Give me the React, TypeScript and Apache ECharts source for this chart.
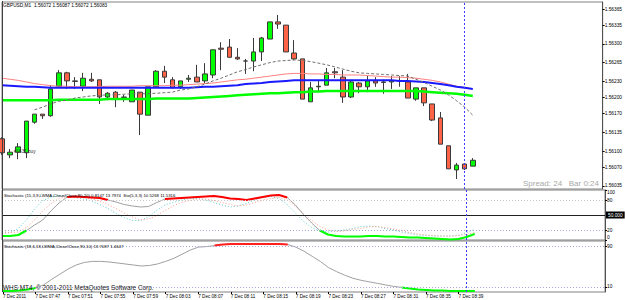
import { useEffect, useRef } from "react";
import * as echarts from "echarts";

const FONT = '"Liberation Sans", Arial, sans-serif';

// ---------- categories (M1 bars) ----------
const barTimes = [
  "07:43", "07:44", "07:45", "07:46", "07:47", "07:48", "07:49", "07:50", "07:51", "07:52",
  "07:53", "07:54", "07:55", "07:56", "07:57", "07:58", "07:59", "08:00", "08:01", "08:02",
  "08:03", "08:04", "08:05", "08:06", "08:07", "08:08", "08:09", "08:10", "08:11", "08:12",
  "08:13", "08:14", "08:15", "08:16", "08:17", "08:18", "08:19", "08:20", "08:21", "08:22",
  "08:23", "08:24", "08:25", "08:26", "08:27", "08:28", "08:29", "08:30", "08:31", "08:32",
  "08:33", "08:34", "08:35", "08:36", "08:37", "08:38", "08:39", "08:40", "08:41",
];
const emptySlots = [
  "08:42", "08:43", "08:44", "08:45", "08:46", "08:47", "08:48", "08:49",
  "08:50", "08:51", "08:52", "08:53", "08:54", "08:55", "08:56", "08:57",
];
const categories = [...barTimes, ...emptySlots];

// ---------- OHLC ----------
const opens = [
  1.56123, 1.56093, 1.56098, 1.56097, 1.56154, 1.56169, 1.56166, 1.56221, 1.56246, 1.56231,
  1.56221, 1.56234, 1.56233, 1.56201, 1.56210, 1.56201, 1.56192, 1.56210, 1.56167, 1.56220,
  1.56249, 1.56233, 1.56220, 1.56234, 1.56238, 1.56231, 1.56242, 1.56292, 1.56294, 1.56275,
  1.56268, 1.56268, 1.56285, 1.56309, 1.56341, 1.56335, 1.56283, 1.56272, 1.56192, 1.56220,
  1.56223, 1.56248, 1.56238, 1.56201, 1.56227, 1.56220, 1.56231, 1.56229, 1.56229, 1.56231,
  1.56229, 1.56197, 1.56218, 1.56188, 1.56162, 1.56110, 1.56065, 1.56076, 1.56072,
];
const closes = [
  1.56097, 1.56098, 1.56108, 1.56156, 1.56169, 1.56166, 1.56216, 1.56246, 1.56231, 1.56230,
  1.56236, 1.56231, 1.56201, 1.56208, 1.56197, 1.56200, 1.56214, 1.56169, 1.56220, 1.56249,
  1.56238, 1.56218, 1.56231, 1.56236, 1.56229, 1.56244, 1.56289, 1.56290, 1.56275, 1.56272,
  1.56268, 1.56285, 1.56311, 1.56341, 1.56337, 1.56285, 1.56272, 1.56197, 1.56218, 1.56221,
  1.56246, 1.56246, 1.56201, 1.56229, 1.56220, 1.56231, 1.56227, 1.56228, 1.56231, 1.56231,
  1.56199, 1.56218, 1.56190, 1.56158, 1.56113, 1.56067, 1.56074, 1.56067, 1.56083,
];
const lows = [
  1.56093, 1.56087, 1.56085, 1.56087, 1.56151, 1.56160, 1.56164, 1.56221, 1.56216, 1.56216,
  1.56212, 1.56229, 1.56188, 1.56195, 1.56182, 1.56192, 1.56192, 1.56130, 1.56167, 1.56218,
  1.56227, 1.56218, 1.56216, 1.56229, 1.56229, 1.56227, 1.56236, 1.56251, 1.56275, 1.56270,
  1.56244, 1.56249, 1.56268, 1.56309, 1.56328, 1.56285, 1.56270, 1.56197, 1.56192, 1.56210,
  1.56223, 1.56236, 1.56190, 1.56199, 1.56208, 1.56210, 1.56220, 1.56207, 1.56216, 1.56220,
  1.56199, 1.56194, 1.56184, 1.56156, 1.56113, 1.56067, 1.56048, 1.56065, 1.56072,
];
const highs = [
  1.56126, 1.56104, 1.56115, 1.56156, 1.56169, 1.56169, 1.56223, 1.56251, 1.56248, 1.56238,
  1.56246, 1.56246, 1.56233, 1.56210, 1.56212, 1.56205, 1.56214, 1.56210, 1.56220, 1.56251,
  1.56259, 1.56238, 1.56231, 1.56242, 1.56261, 1.56264, 1.56289, 1.56303, 1.56309, 1.56292,
  1.56272, 1.56311, 1.56313, 1.56341, 1.56354, 1.56335, 1.56307, 1.56272, 1.56229, 1.56233,
  1.56255, 1.56255, 1.56251, 1.56233, 1.56229, 1.56240, 1.56238, 1.56233, 1.56240, 1.56240,
  1.56244, 1.56218, 1.56218, 1.56188, 1.56173, 1.56110, 1.56078, 1.56076, 1.56087,
];

// ---------- moving averages ----------
const maRed = [
  1.56236, 1.56234, 1.56232, 1.56229, 1.56226, 1.56224, 1.56222, 1.56221, 1.56221, 1.56220,
  1.56220, 1.56220, 1.56220, 1.56221, 1.56221, 1.56221, 1.56221, 1.56222, 1.56222, 1.56222,
  1.56222, 1.56223, 1.56223, 1.56224, 1.56225, 1.56226, 1.56227, 1.56229, 1.56231, 1.56233,
  1.56234, 1.56236, 1.56238, 1.56240, 1.56242, 1.56244, 1.56245, 1.56245, 1.56244, 1.56244,
  1.56243, 1.56243, 1.56242, 1.56242, 1.56242, 1.56241, 1.56240, 1.56239, 1.56238, 1.56238,
  1.56237, 1.56236, 1.56234, 1.56232, 1.56229, 1.56225, 1.56221, 1.56219, 1.56216,
];
const maBlue = [
  1.56223, 1.56222, 1.56221, 1.56220, 1.56220, 1.56219, 1.56218, 1.56218, 1.56218, 1.56218,
  1.56218, 1.56218, 1.56218, 1.56218, 1.56218, 1.56218, 1.56218, 1.56218, 1.56218, 1.56218,
  1.56218, 1.56218, 1.56218, 1.56218, 1.56219, 1.56220, 1.56220, 1.56221, 1.56222, 1.56223,
  1.56225, 1.56226, 1.56227, 1.56229, 1.56230, 1.56231, 1.56232, 1.56232, 1.56232, 1.56232,
  1.56232, 1.56232, 1.56232, 1.56232, 1.56232, 1.56232, 1.56232, 1.56232, 1.56232, 1.56231,
  1.56231, 1.56230, 1.56229, 1.56227, 1.56225, 1.56223, 1.56220, 1.56218, 1.56216,
];
const maGreen = [
  1.56195, 1.56195, 1.56195, 1.56195, 1.56195, 1.56195, 1.56195, 1.56196, 1.56196, 1.56196,
  1.56196, 1.56196, 1.56196, 1.56197, 1.56197, 1.56197, 1.56197, 1.56197, 1.56197, 1.56198,
  1.56198, 1.56198, 1.56198, 1.56198, 1.56199, 1.56200, 1.56201, 1.56202, 1.56203, 1.56204,
  1.56205, 1.56206, 1.56207, 1.56208, 1.56208, 1.56209, 1.56210, 1.56210, 1.56211, 1.56211,
  1.56212, 1.56212, 1.56212, 1.56212, 1.56212, 1.56212, 1.56212, 1.56212, 1.56212, 1.56212,
  1.56212, 1.56212, 1.56211, 1.56210, 1.56209, 1.56208, 1.56207, 1.56205, 1.56203,
];
const maDashed = [
  null, null, null, null, 1.56177, 1.56182, 1.56188, 1.56193, 1.56195, 1.56199,
  1.56201, 1.56203, 1.56204, 1.56205, 1.56205, 1.56206, 1.56207, 1.56207, 1.56207, 1.56208,
  1.56209, 1.56210, 1.56214, 1.56216, 1.56220, 1.56225, 1.56231, 1.56236, 1.56242, 1.56248,
  1.56252, 1.56257, 1.56261, 1.56265, 1.56268, 1.56269, 1.56270, 1.56269, 1.56267, 1.56264,
  1.56261, 1.56257, 1.56253, 1.56249, 1.56246, 1.56245, 1.56244, 1.56243, 1.56242, 1.56241,
  1.56240, 1.56234, 1.56228, 1.56221, 1.56214, 1.56205, 1.56194, 1.56182, 1.56167,
];

// ---------- stochastic window 1 ----------
const sto1Main = [
  8, 8, 10, 19, 30, 40, 58, 74, 86, 87,
  86, 85, 84, 80, 76, 71, 68, 66, 67, 75,
  82, 83, 84, 85, 86, 87, 88, 86, 83, 82,
  80, 83, 86, 89, 90, 85, 70, 51, 34, 19,
  11, 8, 7, 7, 7, 8, 8, 7, 7, 6,
  5, 5, 4, 3, 2, 1, 2, 6, 12,
];
const sto1Fast = [
  13, 15, 23, 40, 62, 79, 86, 89, 88, 85,
  82, 78, 71, 63, 53, 45, 39, 39, 47, 59,
  70, 75, 80, 83, 83, 80, 75, 70, 66, 68,
  73, 80, 85, 87, 83, 71, 54, 37, 25, 18,
  16, 18, 20, 23, 27, 28, 27, 23, 20, 16,
  13, 10, 9, 8, 8, 8, 9, 15, 21,
];
const sto1Signal = [
  16, 15, 16, 25, 40, 58, 73, 83, 87, 87,
  85, 82, 78, 71, 63, 54, 46, 40, 42, 49,
  59, 68, 75, 79, 82, 82, 79, 75, 71, 68,
  70, 75, 80, 83, 85, 80, 68, 52, 39, 27,
  20, 17, 18, 21, 23, 26, 27, 25, 22, 19,
  15, 12, 10, 9, 8, 8, 9, 11, 15,
];

// ---------- stochastic window 2 ----------
const sto2Main = [
  2, 2, 3, 5, 8, 14, 25, 35, 45, 53,
  58, 60, 60, 59, 57, 55, 53, 51, 52, 55,
  60, 66, 74, 82, 88, 89, 91, 93, 94, 94,
  94, 94, 94, 94, 94, 93, 88, 80, 70, 60,
  48, 40, 33, 27, 23, 20, 17, 14, 11, 9,
  7, 5, 4, 3, 3, 2, 2, 2, 2,
];

// ---------- tick labels & levels ----------
const priceTicks = [1.56035, 1.5607, 1.561, 1.56135, 1.5617, 1.562, 1.5623, 1.56265, 1.563, 1.56335, 1.56365];
const sto1Ticks = [0, 20, 80, 100];
const sto2Ticks = [10, 90, 100];
const sto1Levels = [80, 20];
const sto2Levels = [90, 10];
const sto1Line = 50;
const buyLevel = 1.56096;
const stopLevel = 1.5604;
const bidPrice = 1.56083;
const cursorBar = "08:40";

const headerText = "GBPUSD,M1  1.56072 1.56087 1.56072 1.56083";
const sto1Text = "Stochastic (15,3,9,LWMA,Close/Close,80,20) 0.8147 13.7974  Sto(5,3,3) 10.5268 11.5316";
const sto2Text = "Stochastic (18,6,18,LWMA,Close/Close,90,10) 13.7087 1.4647";
const tradeText = "#1631 buy";
const spreadText = "Spread: 24   Bar 0:24";
const copyrightText = "WHS MT4, \u00a9 2001-2011 MetaQuotes Software Corp.";

const candles = opens.map((o, i) => [o, closes[i], lows[i], highs[i]]);
const keepAbove = (arr: number[], t: number) => arr.map((v) => (v >= t ? v : null));
const keepBelow = (arr: number[], t: number) => arr.map((v) => (v <= t ? v : null));

const LEFT = 2;
const RIGHT = 20;

const cursorLine = {
  xAxis: cursorBar,
  lineStyle: { color: "#3c3cff", type: [2, 2], width: 1 },
  label: { show: false },
};

const levelLine = (v: number, color: string) => ({
  yAxis: v,
  lineStyle: { color, type: [1, 2], width: 1 },
  label: { show: false },
});

const axisLabelBase = { fontSize: 4.8, fontFamily: FONT, color: "#000" };

function buildOption(): any {
  const hiddenX = (gridIndex: number) => ({
    type: "category",
    gridIndex,
    data: categories,
    boundaryGap: false,
    axisLine: { show: false },
    axisTick: { show: false },
    axisLabel: { show: false },
    splitLine: { show: false },
  });
  return {
    animation: false,
    backgroundColor: "#ffffff",
    grid: [
      { left: LEFT, right: RIGHT, top: 2, height: 187, show: true, borderColor: "#808080", borderWidth: 1 },
      { left: LEFT, right: RIGHT, top: 190, height: 50, show: true, borderColor: "#808080", borderWidth: 1 },
      { left: LEFT, right: RIGHT, top: 241, height: 51, show: true, borderColor: "#808080", borderWidth: 1 },
    ],
    xAxis: [
      hiddenX(0),
      hiddenX(1),
      {
        type: "category",
        gridIndex: 2,
        data: categories,
        boundaryGap: false,
        axisLine: { show: false },
        axisTick: {
          show: true,
          length: 2,
          lineStyle: { color: "#000" },
          interval: (i: number) => i % 4 === 0 && i < barTimes.length,
        },
        axisLabel: {
          ...axisLabelBase,
          fontSize: 4.6,
          margin: 2,
          align: "left",
          interval: (i: number) => i % 4 === 0 && i < barTimes.length,
          formatter: (v: string, i: number) => (i === 0 ? "7 Dec 2011" : "7 Dec " + v),
        },
        splitLine: { show: false },
      },
    ],
    yAxis: [
      {
        type: "value",
        gridIndex: 0,
        position: "right",
        min: 1.560294,
        max: 1.563781,
        axisLine: { show: true, lineStyle: { color: "#505050" } },
        axisTick: { show: true, length: 2, customValues: priceTicks, lineStyle: { color: "#000" } },
        axisLabel: { ...axisLabelBase, margin: 2, customValues: priceTicks, formatter: (v: number) => v.toFixed(5) },
        splitLine: { show: false },
      },
      {
        type: "value",
        gridIndex: 1,
        position: "right",
        min: 0,
        max: 100,
        axisLine: { show: true, lineStyle: { color: "#505050" } },
        axisTick: { show: true, length: 2, customValues: sto1Ticks, lineStyle: { color: "#000" } },
        axisLabel: {
          ...axisLabelBase,
          margin: 2,
          customValues: sto1Ticks,
          verticalAlignMaxLabel: "top",
          verticalAlignMinLabel: "bottom",
        },
        splitLine: { show: false },
      },
      {
        type: "value",
        gridIndex: 2,
        position: "right",
        min: 0,
        max: 100,
        axisLine: { show: true, lineStyle: { color: "#505050" } },
        axisTick: { show: true, length: 2, customValues: sto2Ticks, lineStyle: { color: "#000" } },
        axisLabel: {
          ...axisLabelBase,
          margin: 2,
          customValues: sto2Ticks,
          verticalAlignMaxLabel: "top",
        },
        splitLine: { show: false },
      },
    ],
    series: [
      {
        type: "candlestick",
        name: "GBPUSD",
        xAxisIndex: 0,
        yAxisIndex: 0,
        data: candles,
        barWidth: 5,
        itemStyle: {
          color: "#00ff00",
          color0: "#ff6347",
          borderColor: "#3a3a3a",
          borderColor0: "#3a3a3a",
          borderWidth: 1,
        },
        markLine: {
          silent: true,
          symbol: ["none", "none"],
          data: [
            { yAxis: buyLevel, lineStyle: { color: "#8fd08f", type: [6, 3, 1, 3], width: 1 }, label: { show: false } },
            { yAxis: stopLevel, lineStyle: { color: "#ff9c7a", type: [6, 3, 1, 3], width: 1 }, label: { show: false } },
            {
              yAxis: bidPrice,
              lineStyle: { opacity: 0 },
              label: {
                show: true,
                position: "end",
                distance: 1,
                formatter: bidPrice.toFixed(5),
                backgroundColor: "#000",
                color: "#fff",
                fontSize: 4.8,
                fontFamily: FONT,
                padding: [1, 2],
              },
            },
            cursorLine,
          ],
        },
      },
      { type: "line", xAxisIndex: 0, yAxisIndex: 0, data: maRed, showSymbol: false, lineStyle: { color: "#ff8080", width: 1 } },
      { type: "line", xAxisIndex: 0, yAxisIndex: 0, data: maBlue, showSymbol: false, lineStyle: { color: "#1a1aff", width: 2 } },
      { type: "line", xAxisIndex: 0, yAxisIndex: 0, data: maGreen, showSymbol: false, lineStyle: { color: "#00ff00", width: 2.5 } },
      { type: "line", xAxisIndex: 0, yAxisIndex: 0, data: maDashed, showSymbol: false, lineStyle: { color: "#707070", width: 1, type: [3, 2] } },
      // window 1
      { type: "line", xAxisIndex: 1, yAxisIndex: 1, data: sto1Fast, showSymbol: false, lineStyle: { color: "#5ccccc", width: 1, type: [1, 2] } },
      { type: "line", xAxisIndex: 1, yAxisIndex: 1, data: sto1Signal, showSymbol: false, lineStyle: { color: "#ff9c8c", width: 1, type: [1, 2] } },
      {
        type: "line",
        xAxisIndex: 1,
        yAxisIndex: 1,
        data: sto1Main,
        showSymbol: false,
        lineStyle: { color: "#a0a0a0", width: 1 },
        markLine: {
          silent: true,
          symbol: ["none", "none"],
          data: [
            levelLine(sto1Levels[0], "#c8c8c8"),
            levelLine(sto1Levels[1], "#a8a8e0"),
            {
              yAxis: sto1Line,
              lineStyle: { color: "#202020", type: "solid", width: 1 },
              label: {
                show: true,
                position: "end",
                distance: 1,
                formatter: sto1Line.toFixed(3),
                backgroundColor: "#000",
                color: "#fff",
                fontSize: 4.8,
                fontFamily: FONT,
                padding: [1, 2],
              },
            },
            cursorLine,
          ],
        },
      },
      { type: "line", xAxisIndex: 1, yAxisIndex: 1, data: keepAbove(sto1Main, sto1Levels[0]), showSymbol: false, lineStyle: { color: "#ff0000", width: 2 } },
      { type: "line", xAxisIndex: 1, yAxisIndex: 1, data: keepBelow(sto1Main, sto1Levels[1]), showSymbol: false, lineStyle: { color: "#00ff00", width: 2 } },
      // window 2
      {
        type: "line",
        xAxisIndex: 2,
        yAxisIndex: 2,
        data: sto2Main,
        showSymbol: false,
        lineStyle: { color: "#a0a0a0", width: 1 },
        markLine: {
          silent: true,
          symbol: ["none", "none"],
          data: [levelLine(sto2Levels[0], "#a8a8e0"), levelLine(sto2Levels[1], "#a8a8e0"), cursorLine],
        },
      },
      { type: "line", xAxisIndex: 2, yAxisIndex: 2, data: keepAbove(sto2Main, sto2Levels[0]), showSymbol: false, lineStyle: { color: "#ff2020", width: 2 } },
      { type: "line", xAxisIndex: 2, yAxisIndex: 2, data: keepBelow(sto2Main, sto2Levels[1]), showSymbol: false, lineStyle: { color: "#00ff00", width: 2 } },
    ],
    graphic: [
      { type: "line", shape: { x1: 2.5, y1: 1, x2: 2.5, y2: 292 }, style: { stroke: "#404040", lineWidth: 1 }, z: 100 },
      { type: "text", x: 3, y: 5.5, style: { text: headerText, fill: "#000", fontSize: 4.8, fontFamily: FONT, verticalAlign: "middle" }, z: 100 },
      { type: "text", x: 14, y: 151, style: { text: tradeText, fill: "#303030", fontSize: 4.6, fontFamily: FONT, verticalAlign: "middle" }, z: 100 },
      { type: "text", x: 599, y: 183, style: { text: spreadText, fill: "#a8a8a8", fontSize: 8, fontFamily: FONT, align: "right", verticalAlign: "middle" }, z: 100 },
      { type: "text", x: 4, y: 195, style: { text: sto1Text, fill: "#000", fontSize: 4.3, fontFamily: FONT, verticalAlign: "middle" }, z: 100 },
      { type: "text", x: 4, y: 246, style: { text: sto2Text, fill: "#000", fontSize: 4.3, fontFamily: FONT, verticalAlign: "middle" }, z: 100 },
      { type: "text", x: 3, y: 287, style: { text: copyrightText, fill: "#202020", fontSize: 6.4, fontFamily: FONT, verticalAlign: "middle" }, z: 100 },
    ],
  };
}

export default function App() {
  const ref = useRef<HTMLDivElement>(null);
  useEffect(() => {
    if (!ref.current) return;
    const chart = echarts.init(ref.current, null, { renderer: "svg", width: 625, height: 300 });
    chart.setOption(buildOption());
    return () => chart.dispose();
  }, []);
  return (
    <div
      ref={ref}
      style={{ position: "fixed", left: 0, top: 0, width: 625, height: 300, background: "#fff" }}
    />
  );
}
